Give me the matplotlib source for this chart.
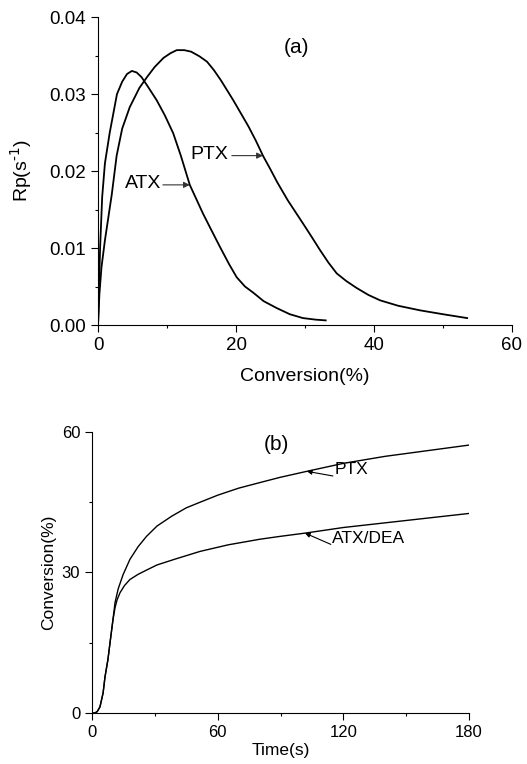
import numpy as np
import matplotlib
matplotlib.use('Agg')
import matplotlib.pyplot as plt
from matplotlib.ticker import MultipleLocator

plt.rcParams['font.family'] = ['Liberation Sans', 'DejaVu Sans']

# (a) Rp vs conversion
atx_conv = [0, 0.3, 0.6, 1.0, 1.7, 2.75, 3.5, 4.2, 4.9, 5.6, 6.3, 7.2, 8.5, 9.7, 10.9,
            12.0, 13.3, 15.2, 16.5, 17.7, 19.0, 20.1, 21.3, 22.5, 24.0, 25.9, 27.8,
            29.7, 31.5, 33.0]
atx_rp = [0, 0.010, 0.0166, 0.021, 0.025, 0.030, 0.0316, 0.0326, 0.0330, 0.0328,
          0.0322, 0.0310, 0.0292, 0.0272, 0.0249, 0.0220, 0.0182, 0.0145, 0.0122,
          0.0101, 0.0079, 0.0062, 0.0050, 0.0042, 0.0031, 0.0022, 0.0014, 0.0009,
          0.0007, 0.0006]

ptx_conv = [0, 0.2, 0.5, 1.0, 1.5, 2.0, 2.7, 3.5, 4.6, 6.0, 7.1, 8.2, 9.5, 10.5, 11.4,
            12.5, 13.5, 14.7, 15.8, 16.8, 17.8, 18.7, 19.6, 20.7, 21.8, 22.9, 23.9,
            25.0, 26.0, 27.5, 28.6, 29.7, 31.0, 32.2, 33.4, 34.6, 36.0, 37.5, 39.2,
            40.9, 43.5, 46.7, 50.0, 53.5]
ptx_rp = [0, 0.004, 0.0075, 0.011, 0.014, 0.0170, 0.0220, 0.0255, 0.0283, 0.0308,
          0.0322, 0.0335, 0.0347, 0.0353, 0.0357, 0.0357, 0.0355, 0.0349, 0.0342,
          0.0331, 0.0318, 0.0305, 0.0292, 0.0275, 0.0258, 0.0239, 0.0220, 0.0202,
          0.0185, 0.0162, 0.0147, 0.0132, 0.0114, 0.0097, 0.0081, 0.0067, 0.0057,
          0.0048, 0.0039, 0.0032, 0.0025, 0.0019, 0.0014, 0.0009]

# (b) conversion vs time
t_ptx = [0, 1.4, 2.5, 3.8, 5.3, 6.2, 7.6, 8.6, 10.0, 11.0, 12.5, 14.8, 18.1, 22, 26,
         31, 38, 45, 51.6, 60, 70, 80.2, 89.7, 102.6, 120, 140, 160, 180]
c_ptx = [0, 0, 0.3, 1.3, 4.3, 7.7, 11.4, 15.0, 19.9, 23.6, 26.5, 29.5, 32.8, 35.5,
         37.7, 39.9, 42.0, 43.8, 45.0, 46.5, 48.0, 49.2, 50.3, 51.6, 53.3, 54.8,
         56.0, 57.2]

t_atx = [0, 1.4, 2.5, 3.8, 5.3, 6.2, 7.6, 8.6, 10.0, 11.0, 12.0, 13.4, 15.5, 18.1, 22,
         26, 31, 40, 51.6, 65, 80.2, 89.7, 101.7, 120, 140, 160, 180]
c_atx = [0, 0, 0.3, 1.3, 4.3, 7.7, 11.4, 15.0, 19.9, 22.5, 24.2, 25.7, 27.2, 28.5,
         29.6, 30.5, 31.6, 32.9, 34.5, 35.9, 37.1, 37.7, 38.4, 39.6, 40.6, 41.6, 42.6]

fig = plt.figure(figsize=(5.27, 7.64), dpi=100)

ax1 = fig.add_axes([0.186, 0.5746, 0.7855, 0.4031])
ax1.plot(atx_conv, atx_rp, color='black', lw=1.3)
ax1.plot(ptx_conv, ptx_rp, color='black', lw=1.3)
ax1.set_xlim(0, 60)
ax1.set_ylim(0, 0.04)
ax1.xaxis.set_major_locator(MultipleLocator(20))
ax1.xaxis.set_minor_locator(MultipleLocator(10))
ax1.yaxis.set_minor_locator(MultipleLocator(0.005))
ax1.set_yticks([0, 0.01, 0.02, 0.03, 0.04])
ax1.set_yticklabels(['0.00', '0.01', '0.02', '0.03', '0.04'])
ax1.set_xlabel('Conversion(%)', fontsize=14, labelpad=10)
ax1.set_ylabel(r'Rp(s$^{\text{-1}}$)', fontsize=14, labelpad=11)
ax1.text(0.48, 0.9, '(a)', transform=ax1.transAxes, fontsize=15, ha='center', va='center')

# arrows and labels, panel (a)
ax1.annotate('', xy=(23.9, 0.0220), xytext=(19.4, 0.0220),
             arrowprops=dict(arrowstyle='-|>', color='#333333', lw=0.8,
                             shrinkA=0, shrinkB=0, mutation_scale=9))
ax1.text(16.2, 0.0222, 'PTX', fontsize=14, ha='center', va='center')
ax1.annotate('', xy=(13.3, 0.0182), xytext=(9.4, 0.0182),
             arrowprops=dict(arrowstyle='-|>', color='#333333', lw=0.8,
                             shrinkA=0, shrinkB=0, mutation_scale=9))
ax1.text(6.6, 0.0184, 'ATX', fontsize=14, ha='center', va='center')

ax2 = fig.add_axes([0.1746, 0.0668, 0.7154, 0.3678])
ax2.plot(t_ptx, c_ptx, color='black', lw=1.0)
ax2.plot(t_atx, c_atx, color='black', lw=1.0)
ax2.set_xlim(0, 180)
ax2.set_ylim(0, 60)
ax2.xaxis.set_major_locator(MultipleLocator(60))
ax2.xaxis.set_minor_locator(MultipleLocator(30))
ax2.yaxis.set_major_locator(MultipleLocator(30))
ax2.yaxis.set_minor_locator(MultipleLocator(15))
ax2.set_xlabel('Time(s)', fontsize=12.5, labelpad=2)
ax2.set_ylabel('Conversion(%)', fontsize=12.5, labelpad=4)
ax2.text(0.49, 0.955, '(b)', transform=ax2.transAxes, fontsize=15, ha='center', va='center')

# arrows and labels, panel (b)
ax2.annotate('', xy=(102.6, 51.6), xytext=(115, 50.6),
             arrowprops=dict(arrowstyle='-|>', color='black', lw=0.8,
                             shrinkA=0, shrinkB=0, mutation_scale=7))
ax2.text(116, 51.9, 'PTX', fontsize=12.5, ha='left', va='center')
ax2.annotate('', xy=(101.7, 38.4), xytext=(114, 36.0),
             arrowprops=dict(arrowstyle='-|>', color='black', lw=0.8,
                             shrinkA=0, shrinkB=0, mutation_scale=7))
ax2.text(114.5, 37.3, 'ATX/DEA', fontsize=12.5, ha='left', va='center')

for ax in (ax1, ax2):
    ax.spines['top'].set_visible(False)
    ax.spines['right'].set_visible(False)
    ax.tick_params(which='major', direction='out', length=5, width=0.8)
    ax.tick_params(which='minor', direction='out', length=2.5, width=0.8)
ax1.tick_params(which='major', labelsize=13.5)
ax2.tick_params(which='major', labelsize=12)

fig.savefig('out.png', dpi=100)
